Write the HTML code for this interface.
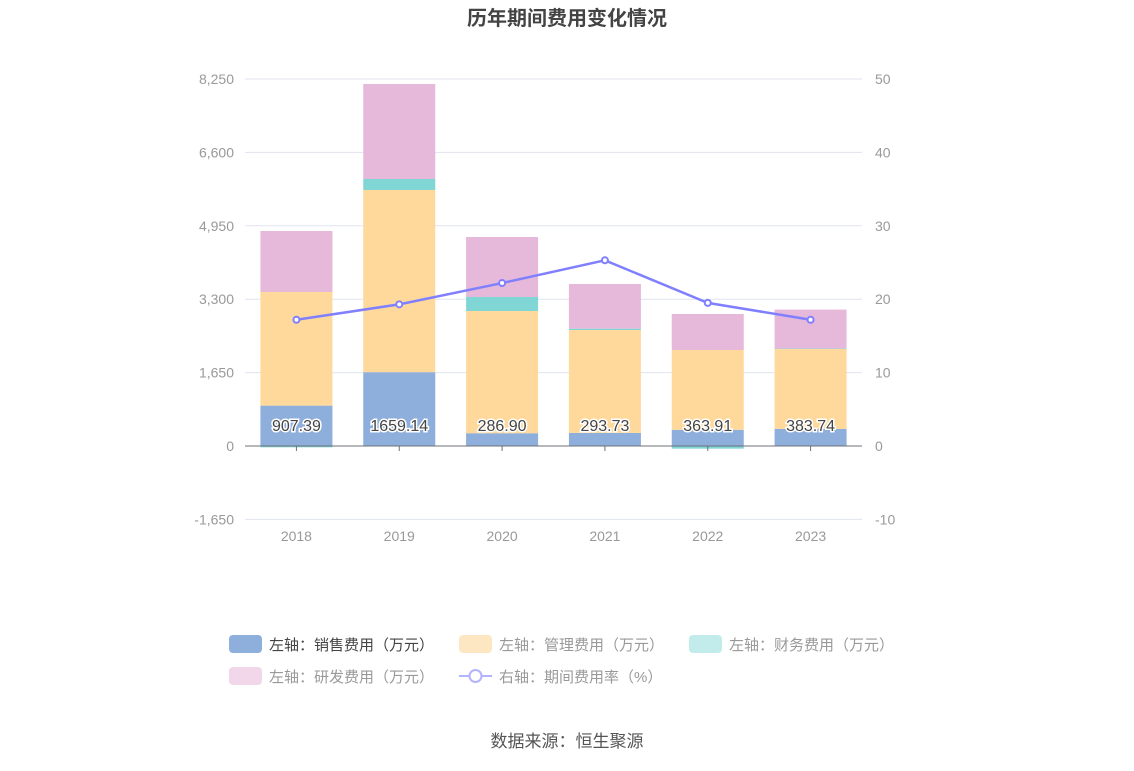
<!DOCTYPE html>
<html><head><meta charset="utf-8">
<style>
body{margin:0;background:#fff;width:1134px;height:766px;overflow:hidden;font-family:"Liberation Sans","Noto Sans CJK SC",sans-serif;}
</style></head>
<body>
<svg id="c" width="1134" height="766" xmlns="http://www.w3.org/2000/svg"></svg>
<script>
const categories=['2018','2019','2020','2021','2022','2023'];
const sales=[907.39,1659.14,286.90,293.73,363.91,383.74];
const mgmt=[2555,4096,2748,2314,1794,1796];
const finance=[-30,247,315,30,-60,10];
const research=[1371,2136,1348,1004,809,877];
const rate=[17.2,19.3,22.2,25.3,19.5,17.2];
const leftTicks=[-1650,0,1650,3300,4950,6600,8250];
const rightTicks=[-10,0,10,20,30,40,50];
const NS='http://www.w3.org/2000/svg';
const svg=document.getElementById('c');
const x0=245,x1=862,yTop=79,yZero=446,yBot=518;
const yL=v=>yZero-(v/8250)*(yZero-yTop);
const yR=v=>yZero-(v/50)*(yZero-yTop);
const step=(x1-x0)/categories.length;
const xC=i=>x0+step*(i+0.5);
const bw=72;
function el(t,a,txt){const e=document.createElementNS(NS,t);for(const k in a)e.setAttribute(k,a[k]);if(txt!==undefined)e.textContent=txt;svg.appendChild(e);return e;}
let t=el('text',{x:567,y:25,'text-anchor':'middle','font-size':20,'font-weight':'bold',fill:'#444'},'历年期间费用变化情况');


leftTicks.forEach((v,i)=>{
 const y=yL(v);
 if(v!==0){const g=el('line',{x1:x0,x2:x1,y1:y,y2:y,stroke:'#e0e3f0','stroke-width':1});
 
 }
 const a=el('text',{x:234,y:y+5,'text-anchor':'end','font-size':14,fill:'#999'},v.toLocaleString('en-US'));
 
 
});
rightTicks.forEach(v=>{
 const b=el('text',{x:875,y:yR(v)+5,'font-size':14,fill:'#999'},String(v));
 
 
});
const cols={sales:'#8eaedb',mgmt:'#ffd99b',finance:'#7fd6d4',research:'#e6b8d9'};
categories.forEach((c,i)=>{
 let pos=0,neg=0;
 [['sales',sales],['mgmt',mgmt],['finance',finance],['research',research]].forEach(([k,arr])=>{
  const v=arr[i];let ya,yb;
  if(v>=0){ya=yL(pos+v);yb=yL(pos);pos+=v;}else{ya=yL(neg);yb=yL(neg+v);neg+=v;}
  const r=el('rect',{x:xC(i)-bw/2,y:ya,width:bw,height:Math.max(0,yb-ya),fill:cols[k]});
  
  
 });
 const l=el('text',{x:xC(i),y:yL(0)-15,'text-anchor':'middle','font-size':16,fill:'#444',stroke:'#fff','stroke-width':3,'paint-order':'stroke'},sales[i].toFixed(2));
 
 
 const xl=el('text',{x:xC(i),y:541,'text-anchor':'middle','font-size':14,fill:'#999'},c);
 
 
 const tk=el('line',{x1:xC(i),x2:xC(i),y1:yZero,y2:yZero+5,stroke:'#6e7079'});
 
 
});
const ax=el('line',{x1:x0,x2:x1,y1:yZero,y2:yZero,stroke:'#6e7079'});


const pl=el('polyline',{points:rate.map((v,i)=>xC(i)+','+yR(v)).join(' '),fill:'none',stroke:'#8080ff','stroke-width':2.5});


rate.forEach((v,i)=>{
 const p=el('circle',{cx:xC(i),cy:yR(v),r:3,fill:'#fff',stroke:'#8080ff','stroke-width':2});
 
 
});
const leg=[['左轴：销售费用（万元）','#8eaedb',229,644,'rect'],['左轴：管理费用（万元）','#fde6c2',459,644,'rect'],['左轴：财务费用（万元）','#c2ecec',689,644,'rect'],['左轴：研发费用（万元）','#f2d7ea',229,676,'rect'],['右轴：期间费用率（%）','#8080ff',459,676,'line']];
leg.forEach(([txt,col,x,y,kind])=>{
 if(kind==='rect'){const r=el('rect',{x:x,y:y-9,width:33,height:18,rx:4,fill:col});
  
  }
 else{const l=el('line',{x1:x,x2:x+33,y1:y,y2:y,stroke:'#b3b3ff','stroke-width':2});
  
  
  const c=el('circle',{cx:x+16.5,cy:y,r:6,fill:'#fff',stroke:'#b3b3ff','stroke-width':2});
  
  }
 const tx=el('text',{x:x+40,y:y+6,'font-size':15,fill:kind==='rect'&&x===229&&y===644?'#444':'#999'},txt);
 
 
});
const s=el('text',{x:567,y:747,'text-anchor':'middle','font-size':17,fill:'#555'},'数据来源：恒生聚源');


</script>
</body></html>
